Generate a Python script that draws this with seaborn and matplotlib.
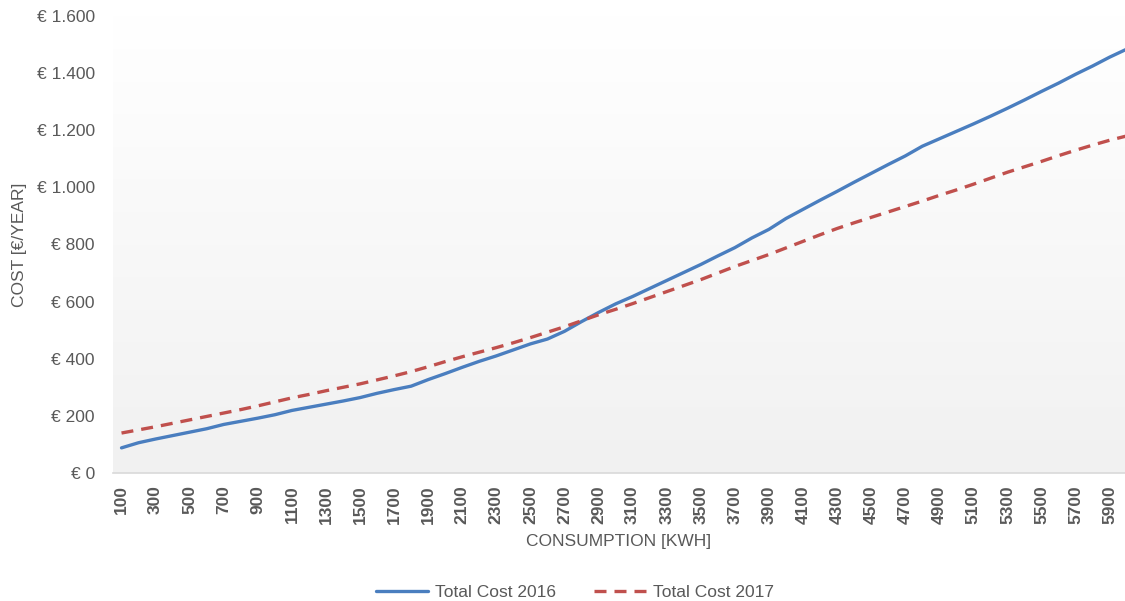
import matplotlib
matplotlib.use("Agg")
import matplotlib.pyplot as plt
import seaborn as sns
import numpy as np
import pandas as pd
from matplotlib.colors import LinearSegmentedColormap
from matplotlib.lines import Line2D

consumption = list(range(100, 6001, 100))
cost_2016 = [88, 106, 119, 131, 143, 155, 170, 181, 192, 204,
             219, 230, 241, 252, 264, 279, 292, 304, 327, 348,
             370, 391, 410, 431, 452, 469, 496, 530, 562, 592,
             618, 646, 674, 702, 730, 760, 789, 823, 853, 891,
             923, 955, 986, 1018, 1049, 1080, 1110, 1144, 1170, 1196,
             1222, 1249, 1277, 1306, 1336, 1365, 1396, 1425, 1456, 1484]
cost_2017 = [140, 151, 162, 174, 186, 198, 210, 222, 235, 249,
             263, 275, 288, 300, 312, 326, 340, 355, 372, 390,
             407, 423, 439, 456, 474, 493, 512, 533, 554, 573,
             593, 614, 635, 656, 677, 700, 723, 744, 765, 788,
             811, 834, 856, 876, 895, 914, 933, 952, 972, 991,
             1011, 1032, 1053, 1072, 1091, 1111, 1130, 1148, 1165, 1180]
series_names = ["Total Cost 2016", "Total Cost 2017"]
x_tick_values = list(range(100, 6000, 200))
y_tick_values = [0, 200, 400, 600, 800, 1000, 1200, 1400, 1600]
y_tick_labels = ["€ 0", "€ 200", "€ 400", "€ 600", "€ 800", "€ 1.000", "€ 1.200", "€ 1.400", "€ 1.600"]

df = pd.DataFrame({
    "Consumption": consumption * 2,
    "Cost": cost_2016 + cost_2017,
    "Series": [series_names[0]] * len(consumption) + [series_names[1]] * len(consumption),
})

sns.set_theme(style="white")
plt.rcParams["font.family"] = ["Liberation Sans", "DejaVu Sans"]

W, H = 1125, 601
fig = plt.figure(figsize=(W / 100, H / 100), dpi=100)
ax = fig.add_axes([113 / W, (H - 473) / H, (1125 - 113) / W, (473 - 16) / H])

xmin, xmax = 50, 5990
ax.set_xlim(xmin, xmax)
ax.set_ylim(0, 1600)

# gradient background
cmap = LinearSegmentedColormap.from_list("bg", ["#f1f1f1", "#f8f8f8", "#ffffff"])
grad = np.linspace(0, 1, 256).reshape(-1, 1)
ax.imshow(grad, extent=[xmin, xmax, 0, 1600], origin="lower", aspect="auto",
          cmap=cmap, zorder=0, interpolation="bicubic")

palette = {series_names[0]: "#4a7ebf", series_names[1]: "#c0504d"}
dashes = {series_names[0]: "", series_names[1]: (3.6, 2.4)}
sns.lineplot(data=df, x="Consumption", y="Cost", hue="Series", style="Series",
             palette=palette, dashes=dashes, linewidth=2.4, ax=ax, zorder=3,
             legend=False)
ax.set_xlim(xmin, xmax)
ax.set_ylim(0, 1600)

for sp in ["top", "right", "left"]:
    ax.spines[sp].set_visible(False)
ax.spines["bottom"].set_color("#d9d9d9")
ax.spines["bottom"].set_linewidth(1.2)

ax.set_xticks(x_tick_values)
ax.set_xticklabels([str(v) for v in x_tick_values], rotation=90, fontsize=12.5,
                   fontweight="bold", color="#595959")
ax.set_yticks(y_tick_values)
ax.set_yticklabels(y_tick_labels, fontsize=12.5, color="#595959")
ax.tick_params(axis="x", length=0, pad=9)
ax.tick_params(axis="y", length=0, pad=13)

ax.set_xlabel("CONSUMPTION [KWH]", fontsize=12.5, color="#595959", labelpad=7)
ax.set_ylabel("COST [€/YEAR]", fontsize=12.5, color="#595959")
ax.yaxis.set_label_coords(-0.085, 0.5)

handles = [Line2D([], [], color=palette[series_names[0]], linewidth=2.4),
           Line2D([], [], color=palette[series_names[1]], linewidth=2.4, dashes=(3.6, 2.4))]
fig.legend(handles, series_names, loc="center", bbox_to_anchor=(575 / W, 9 / H),
           ncol=2, frameon=False, fontsize=12.5, handlelength=3.0, columnspacing=2.2,
           handletextpad=0.4, labelcolor="#595959")

fig.savefig("out.png", dpi=100)
